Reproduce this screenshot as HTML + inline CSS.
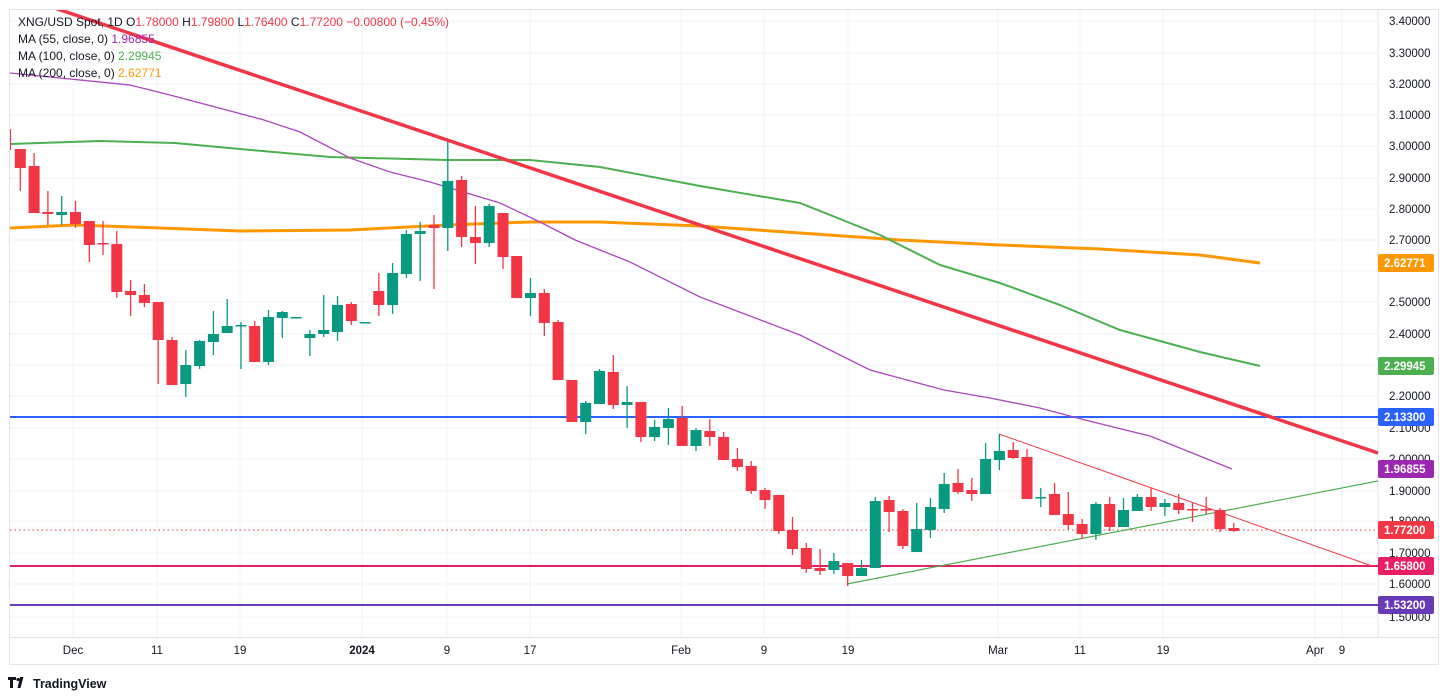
<!DOCTYPE html>
<html><head><meta charset="utf-8"><style>
html,body{margin:0;padding:0;background:#fff;}
svg{display:block;font-family:"Liberation Sans",sans-serif;}
</style></head><body>
<svg width="1448" height="700" viewBox="0 0 1448 700" xmlns="http://www.w3.org/2000/svg">
<defs><clipPath id="c"><rect x="10" y="10" width="1368" height="627"/></clipPath></defs>
<rect x="0" y="0" width="1448" height="700" fill="#fff"/>
<g stroke="#f0f3fa" stroke-width="1">
<path d="M10 21H1378M10 53H1378M10 84H1378M10 115H1378M10 146H1378M10 178H1378M10 209H1378M10 240H1378M10 271H1378M10 302H1378M10 334H1378M10 365H1378M10 396H1378M10 428H1378M10 459H1378M10 491H1378M10 521H1378M10 553H1378M10 584H1378M10 617H1378"/>
<path d="M73 10V637M157 10V637M240 10V637M362 10V637M447 10V637M530 10V637M681 10V637M764 10V637M848 10V637M998 10V637M1080 10V637M1163 10V637M1315 10V637M1342 10V637"/>
</g>
<rect x="9.5" y="9.5" width="1429" height="655" fill="none" stroke="#e0e3eb"/>
<line x1="1378" y1="10" x2="1378" y2="637" stroke="#e0e3eb"/>
<line x1="10" y1="637.5" x2="1438" y2="637.5" stroke="#e0e3eb"/>
<g clip-path="url(#c)" fill="none">
<line x1="10" y1="417" x2="1378" y2="417" stroke="#2962ff" stroke-width="2"/>
<line x1="10" y1="566" x2="1378" y2="566" stroke="#e91e63" stroke-width="2"/>
<line x1="10" y1="605" x2="1378" y2="605" stroke="#673ab7" stroke-width="2"/>
<line x1="10" y1="530" x2="1378" y2="530" stroke="#f23645" stroke-width="1" stroke-dasharray="1.5 3"/>
<polyline stroke="#ff9800" stroke-width="3" points="10,228 75,225 160,228 240,231 350,230 447,225 530,222 600,222 700,226 800,233 900,240 1000,245 1100,249 1200,255 1260,263"/>
<polyline stroke="#4caf50" stroke-width="2" points="10,144 100,141 175,143 240,149 330,157 447,160 530,160 600,167 700,186 800,203 880,235 940,265 1000,283 1060,305 1120,330 1200,352 1260,366"/>
<polyline stroke="#ab47bc" stroke-width="1.3" points="10,73 130,85 170,95 264,120 300,132 350,158 390,172 430,182 500,203 540,222 575,240 630,262 700,297 800,335 870,370 944,390 990,398 1040,408 1085,420 1150,436 1232,469"/>
<line x1="10" y1="-7" x2="1378" y2="453" stroke="#f23645" stroke-width="3.5"/>
<line x1="999" y1="434" x2="1372" y2="566" stroke="#f23645" stroke-width="1"/>
<line x1="847" y1="584" x2="1378" y2="481" stroke="#4caf50" stroke-width="1.2"/>
</g>
<g clip-path="url(#c)">
<rect x="9" y="129" width="2" height="21" fill="#f23645"/>
<g stroke="#f23645" stroke-width="1.3" fill="none">
<path d="M20.3 149V191M34.1 153V213M47.9 191V225M75.5 201V228M89.3 221V262M103 221V255M116.8 231V298M130.6 280V316M144.4 284V307M158.2 302V384M172 337V385M254.7 321V362M351.3 302V325M378.8 273V316M434 215V289M461.6 176V247M475.4 206V264M503 213V269M544.3 289V336M558.1 320V380M613.3 355V409M640.9 402V442M682.2 406V446M709.8 419V446M723.6 432V460M737.4 448V471M751.2 461V494M765 488V509M778.8 495V534M792.5 517V555M806.3 543V573M820.1 549V575M847.7 563V586M889.1 496V532M902.9 509V549M958 469V494M971.8 478V501M1013.2 442V459M1027 449V499M1054.6 483V515M1068.3 492V530M1082.1 519V539M1109.7 497V531M1151.1 488V511M1178.7 494V514M1192.5 502V522M1206.2 497V514M1220 508V532M1233.8 523V532"/>
</g>
<g fill="#f23645">
<rect x="14.8" y="149" width="11" height="19"/><rect x="28.6" y="166" width="11" height="47"/><rect x="42.4" y="212" width="11" height="2"/><rect x="70" y="212" width="11" height="12"/><rect x="83.8" y="221" width="11" height="24"/><rect x="97.5" y="243" width="11" height="1.5"/><rect x="111.3" y="244" width="11" height="48"/><rect x="125.1" y="291" width="11" height="4"/><rect x="138.9" y="295" width="11" height="8"/><rect x="152.7" y="302" width="11" height="38"/><rect x="166.5" y="340" width="11" height="45"/><rect x="249.2" y="326" width="11" height="36"/><rect x="345.8" y="304" width="11" height="17"/><rect x="373.3" y="291" width="11" height="14"/><rect x="428.5" y="225" width="11" height="3"/><rect x="456.1" y="180" width="11" height="57"/><rect x="469.9" y="237" width="11" height="6"/><rect x="497.5" y="213" width="11" height="44"/><rect x="511.2" y="256" width="11" height="42"/><rect x="538.8" y="293" width="11" height="30"/><rect x="552.6" y="322" width="11" height="58"/><rect x="566.4" y="380" width="11" height="42"/><rect x="607.8" y="372" width="11" height="33"/><rect x="635.4" y="402" width="11" height="35"/><rect x="676.7" y="418" width="11" height="28"/><rect x="704.3" y="431" width="11" height="6"/><rect x="718.1" y="437" width="11" height="23"/><rect x="731.9" y="459" width="11" height="8"/><rect x="745.7" y="466" width="11" height="25"/><rect x="759.5" y="490" width="11" height="10"/><rect x="773.3" y="495" width="11" height="36"/><rect x="787" y="530" width="11" height="19"/><rect x="800.8" y="548" width="11" height="21"/><rect x="814.6" y="568" width="11" height="3"/><rect x="842.2" y="563" width="11" height="13"/><rect x="883.6" y="500" width="11" height="12"/><rect x="897.4" y="511" width="11" height="35"/><rect x="952.5" y="483" width="11" height="9"/><rect x="966.3" y="490" width="11" height="4"/><rect x="1007.7" y="450" width="11" height="8"/><rect x="1021.5" y="457" width="11" height="42"/><rect x="1049.1" y="494" width="11" height="21"/><rect x="1062.8" y="514" width="11" height="11"/><rect x="1076.6" y="524" width="11" height="10"/><rect x="1104.2" y="504" width="11" height="23"/><rect x="1145.6" y="497" width="11" height="10"/><rect x="1173.2" y="503" width="11" height="7"/><rect x="1187" y="509" width="11" height="1.5"/><rect x="1200.7" y="509" width="11" height="1.5"/><rect x="1214.5" y="510" width="11" height="19"/><rect x="1228.3" y="528" width="11" height="3"/>
</g>
<g stroke="#089981" stroke-width="1.3" fill="none">
<path d="M61.7 196V225M185.8 350V397M199.6 340V369M213.4 311V355M227.2 299V333M241 322V369M268.5 310V365M282.3 311V338M309.9 330V356M323.7 295V337M337.5 296V341M392.6 263V314M406.4 230V278M420.2 222V281M447.8 142V251M489.2 204V247M530.5 278V316M585.7 401V434M599.5 369V404M627.1 386V428M654.6 420V441M668.4 408V445M696 428V451M833.9 553V574M861.5 560V576M875.3 497V568M916.7 503V552M930.4 498V538M944.2 473V513M985.6 443V494M999.4 434V470M1040.8 488V507M1095.9 502V540M1123.5 498V527M1137.3 494V511M1164.9 499V516"/>
</g>
<g fill="#089981">
<rect x="56.2" y="212" width="11" height="3"/><rect x="180.3" y="365" width="11" height="19"/><rect x="194.1" y="341" width="11" height="25"/><rect x="207.9" y="334" width="11" height="8"/><rect x="221.7" y="326" width="11" height="7"/><rect x="235.5" y="325" width="11" height="1.5"/><rect x="263" y="317" width="11" height="45"/><rect x="276.8" y="312" width="11" height="6"/><rect x="290.6" y="317" width="11" height="1.5"/><rect x="304.4" y="334" width="11" height="4"/><rect x="318.2" y="330" width="11" height="4"/><rect x="332" y="305" width="11" height="27"/><rect x="359.6" y="322" width="11" height="1.5"/><rect x="387.1" y="273" width="11" height="32"/><rect x="400.9" y="234" width="11" height="40"/><rect x="414.7" y="231" width="11" height="3"/><rect x="442.3" y="181" width="11" height="47"/><rect x="483.7" y="206" width="11" height="37"/><rect x="525" y="293" width="11" height="5"/><rect x="580.2" y="403" width="11" height="19"/><rect x="594" y="371" width="11" height="33"/><rect x="621.6" y="402" width="11" height="3"/><rect x="649.1" y="427" width="11" height="10"/><rect x="662.9" y="419" width="11" height="9"/><rect x="690.5" y="430" width="11" height="16"/><rect x="828.4" y="561" width="11" height="9"/><rect x="856" y="568" width="11" height="8"/><rect x="869.8" y="501" width="11" height="67"/><rect x="911.2" y="529" width="11" height="23"/><rect x="924.9" y="507" width="11" height="23"/><rect x="938.7" y="484" width="11" height="25"/><rect x="980.1" y="459" width="11" height="35"/><rect x="993.9" y="451" width="11" height="9"/><rect x="1035.3" y="497" width="11" height="1.5"/><rect x="1090.4" y="504" width="11" height="30"/><rect x="1118" y="510" width="11" height="17"/><rect x="1131.8" y="497" width="11" height="14"/><rect x="1159.4" y="503" width="11" height="4"/>
</g>
</g>
<g font-size="11.5" fill="#131722">
<text x="1389" y="25">3.40000</text><text x="1389" y="57">3.30000</text><text x="1389" y="88">3.20000</text><text x="1389" y="119">3.10000</text><text x="1389" y="150">3.00000</text><text x="1389" y="182">2.90000</text><text x="1389" y="213">2.80000</text><text x="1389" y="244">2.70000</text><text x="1389" y="306">2.50000</text><text x="1389" y="338">2.40000</text><text x="1389" y="400">2.20000</text><text x="1389" y="432">2.10000</text><text x="1389" y="463">2.00000</text><text x="1389" y="495">1.90000</text><text x="1389" y="525">1.80000</text><text x="1389" y="557">1.70000</text><text x="1389" y="588">1.60000</text><text x="1389" y="621">1.50000</text>
</g>
<g font-size="11.5" font-weight="bold" fill="#fff">
<rect x="1378" y="254" width="56" height="18" rx="2" fill="#ff9800"/><text x="1384" y="267">2.62771</text>
<rect x="1378" y="357" width="56" height="18" rx="2" fill="#4caf50"/><text x="1384" y="370">2.29945</text>
<rect x="1378" y="408" width="56" height="18" rx="2" fill="#2962ff"/><text x="1384" y="421">2.13300</text>
<rect x="1378" y="460" width="56" height="18" rx="2" fill="#9c27b0"/><text x="1384" y="473">1.96855</text>
<rect x="1378" y="521" width="56" height="18" rx="2" fill="#f23645"/><text x="1384" y="534">1.77200</text>
<rect x="1378" y="557" width="56" height="18" rx="2" fill="#e91e63"/><text x="1384" y="570">1.65800</text>
<rect x="1378" y="596" width="56" height="18" rx="2" fill="#673ab7"/><text x="1384" y="609">1.53200</text>
</g>
<g font-size="11.5" fill="#131722" text-anchor="middle">
<text x="73" y="654">Dec</text><text x="157" y="654">11</text><text x="240" y="654">19</text><text x="362" y="654" font-weight="bold">2024</text><text x="447" y="654">9</text><text x="530" y="654">17</text><text x="681" y="654">Feb</text><text x="764" y="654">9</text><text x="848" y="654">19</text><text x="998" y="654">Mar</text><text x="1080" y="654">11</text><text x="1163" y="654">19</text><text x="1315" y="654">Apr</text><text x="1342" y="654">9</text>
</g>
<g font-size="12" fill="#131722" xml:space="preserve">
<text x="18" y="26">XNG/USD Spot, 1D  O<tspan fill="#f23645">1.78000</tspan>  H<tspan fill="#f23645">1.79800</tspan>  L<tspan fill="#f23645">1.76400</tspan>  C<tspan fill="#f23645">1.77200</tspan>  <tspan fill="#f23645">−0.00800 (−0.45%)</tspan></text>
<text x="18" y="43">MA (55, close, 0)  <tspan fill="#9c27b0">1.96855</tspan></text>
<text x="18" y="60">MA (100, close, 0)  <tspan fill="#4caf50">2.29945</tspan></text>
<text x="18" y="77">MA (200, close, 0)  <tspan fill="#ff9800">2.62771</tspan></text>
</g>
<g>
<path d="M8 677h8v3h-3v8h-3v-8h-2z" fill="#131722"/><circle cx="18" cy="679.5" r="1.6" fill="#131722"/><path d="M20 677h3.5l-3 11h-3z" fill="#131722"/>
<text x="33" y="688" font-size="12.5" font-weight="bold" fill="#131722">TradingView</text>
</g>
</svg>
</body></html>
